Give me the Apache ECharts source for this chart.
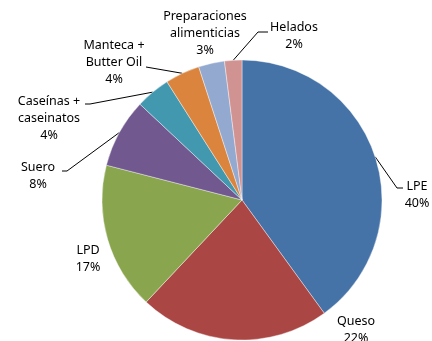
<!DOCTYPE html>
<html>
<head>
<meta charset="utf-8">
<script src="https://cdn.jsdelivr.net/npm/echarts@6/dist/echarts.min.js"></script>
<style>
  html, body { margin: 0; padding: 0; background: #fff; }
  #chart { width: 432px; height: 341px; }
</style>
</head>
<body>
<div id="chart"></div>
<script>
// categorias y porcentajes
const categories = ['LPE', 'Queso', 'LPD', 'Suero', 'Caseínas +\ncaseinatos', 'Manteca +\nButter Oil', 'Preparaciones\nalimenticias', 'Helados']
const shares = [40, 22, 17, 8, 4, 4, 3, 2]
const colors = ['#4572a7', '#aa4643', '#89a54e', '#71588f', '#4198af', '#db843d', '#93a9cf', '#d19392']

// donde va cada etiqueta (centro del texto) y el final de la linea guia
const labelSpots = [[417, 195], [356, 330], [88, 259], [38, 176], [49, 118], [114, 62], [205, 33], [294, 36]]
const lineEnds = [
  [[397, 188], [403, 188]],
  null,
  null,
  [[67, 171], [62, 171]],
  [[90, 104], [85, 104]],
  [[146, 67], [146, 67]],
  null,
  [[258, 32], [268, 32]]
]

const chart = echarts.init(document.getElementById('chart'))
chart.setOption({
  animation: false,
  color: colors,
  series: [
    {
      type: 'pie',
      center: [242, 200],
      radius: 140,
      startAngle: 90,
      clockwise: true,
      avoidLabelOverlap: false,
      itemStyle: {
        borderColor: '#fff',
        borderWidth: 0.4
      },
      label: {
        show: true,
        position: 'outside',
        formatter: '{b}\n{c}%',
        color: '#000',
        fontFamily: 'Noto Sans',
        fontSize: 12.5,
        lineHeight: 17,
        align: 'center',
        overflow: 'none'
      },
      labelLine: {
        show: true,
        lineStyle: { color: '#000', width: 1 }
      },
      labelLayout: function (params) {
        const i = params.dataIndex
        const out = {
          x: labelSpots[i][0],
          y: labelSpots[i][1],
          align: 'center',
          verticalAlign: 'middle',
          width: 120
        }
        const p0 = params.labelLinePoints ? params.labelLinePoints[0] : null
        if (lineEnds[i] && p0) {
          out.labelLinePoints = [p0, lineEnds[i][0], lineEnds[i][1]]
        } else if (p0) {
          out.labelLinePoints = [p0, p0, p0]
        }
        return out
      },
      data: categories.map((name, i) => ({ name: name, value: shares[i] }))
    }
  ]
})
</script>
</body>
</html>
